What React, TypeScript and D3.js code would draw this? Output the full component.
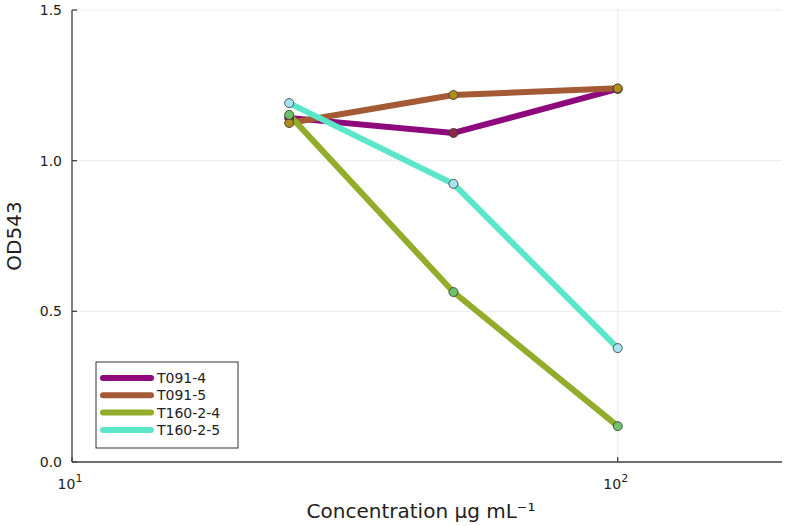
import React from "react";
import * as d3 from "d3";

const concentrations = [25, 50, 100];
const seriesNames = ["T091-4", "T091-5", "T160-2-4", "T160-2-5"];
const t0914 = [1.142, 1.092, 1.238];
const t0915 = [1.125, 1.218, 1.24];
const t16024 = [1.152, 0.564, 0.119];
const t16025 = [1.191, 0.923, 0.378];
const yTicks = [0.0, 0.5, 1.0, 1.5];
const xTicks = [10, 100];

const lineColors = ["#8e0a7c", "#a35a35", "#93ac2b", "#5ce6c9"];
const markerColors = ["#8a2a4a", "#b08a1a", "#6cc36a", "#a6e4f2"];

export default function App() {
  const W = 787, H = 526;
  const left = 72, right = 782, top = 10, bottom = 462;
  const x = d3.scaleLog().domain([10, 200]).range([left, right]);
  const y = d3.scaleLinear().domain([0, 1.5]).range([bottom, top]);
  const data = [t0914, t0915, t16024, t16025];
  const line = d3.line<number>().x((_, i) => x(concentrations[i])).y((d) => y(d));
  const font = "'DejaVu Sans', sans-serif";

  return (
    <svg width={W} height={H} style={{ position: "absolute", left: 0, top: 0 }} fontFamily={font}>
      <rect x={0} y={0} width={W} height={H} fill="#fff" />
      {yTicks.map((t) => (
        <line key={"gy" + t} x1={left} x2={right} y1={y(t)} y2={y(t)} stroke="#000" strokeOpacity={0.08} strokeWidth={1} />
      ))}
      {xTicks.map((t) => (
        <line key={"gx" + t} x1={x(t)} x2={x(t)} y1={top} y2={bottom} stroke="#000" strokeOpacity={0.08} strokeWidth={1} />
      ))}
      <line x1={left} x2={left} y1={top} y2={bottom} stroke="#444" strokeWidth={1.3} />
      <line x1={left} x2={right} y1={bottom} y2={bottom} stroke="#444" strokeWidth={1.3} />
      {yTicks.map((t) => (
        <g key={"ty" + t}>
          <line x1={left} x2={left + 5} y1={y(t)} y2={y(t)} stroke="#444" strokeWidth={1.3} />
          <text x={left - 10} y={y(t)} dy="0.35em" textAnchor="end" fontSize={14} fill="#222">
            {t.toFixed(1)}
          </text>
        </g>
      ))}
      {xTicks.map((t) => (
        <g key={"tx" + t}>
          <line x1={x(t)} x2={x(t)} y1={bottom} y2={bottom - 5} stroke="#444" strokeWidth={1.3} />
          <text x={x(t) - 2} y={bottom + 27} textAnchor="middle" fontSize={14} fill="#222">
            10<tspan dy={-7} fontSize={11}>{Math.round(Math.log10(t))}</tspan>
          </text>
        </g>
      ))}
      <text x={421} y={518} textAnchor="middle" fontSize={20} fill="#222">
        Concentration μg mL⁻¹
      </text>
      <text transform={`translate(21,${(top + bottom) / 2}) rotate(-90)`} textAnchor="middle" fontSize={20} fill="#222">
        OD543
      </text>
      {data.map((d, i) => (
        <path key={"l" + i} d={line(d) || ""} fill="none" stroke={lineColors[i]} strokeWidth={6} strokeLinejoin="round" />
      ))}
      {data.map((d, i) =>
        d.map((v, j) => (
          <circle key={"m" + i + "-" + j} cx={x(concentrations[j])} cy={y(v)} r={4.5} fill={markerColors[i]} stroke="#333" strokeOpacity={0.8} strokeWidth={1} />
        ))
      )}
      <rect x={96} y={362} width={142} height={86} fill="#fff" stroke="#333" strokeWidth={1} />
      {seriesNames.map((n, i) => (
        <g key={"lg" + n}>
          <line x1={103} x2={151} y1={378 + i * 17.3} y2={378 + i * 17.3} stroke={lineColors[i]} strokeWidth={6} strokeLinecap="round" />
          <text x={157} y={378 + i * 17.3} dy="0.35em" fontSize={14} fill="#222">
            {n}
          </text>
        </g>
      ))}
    </svg>
  );
}
